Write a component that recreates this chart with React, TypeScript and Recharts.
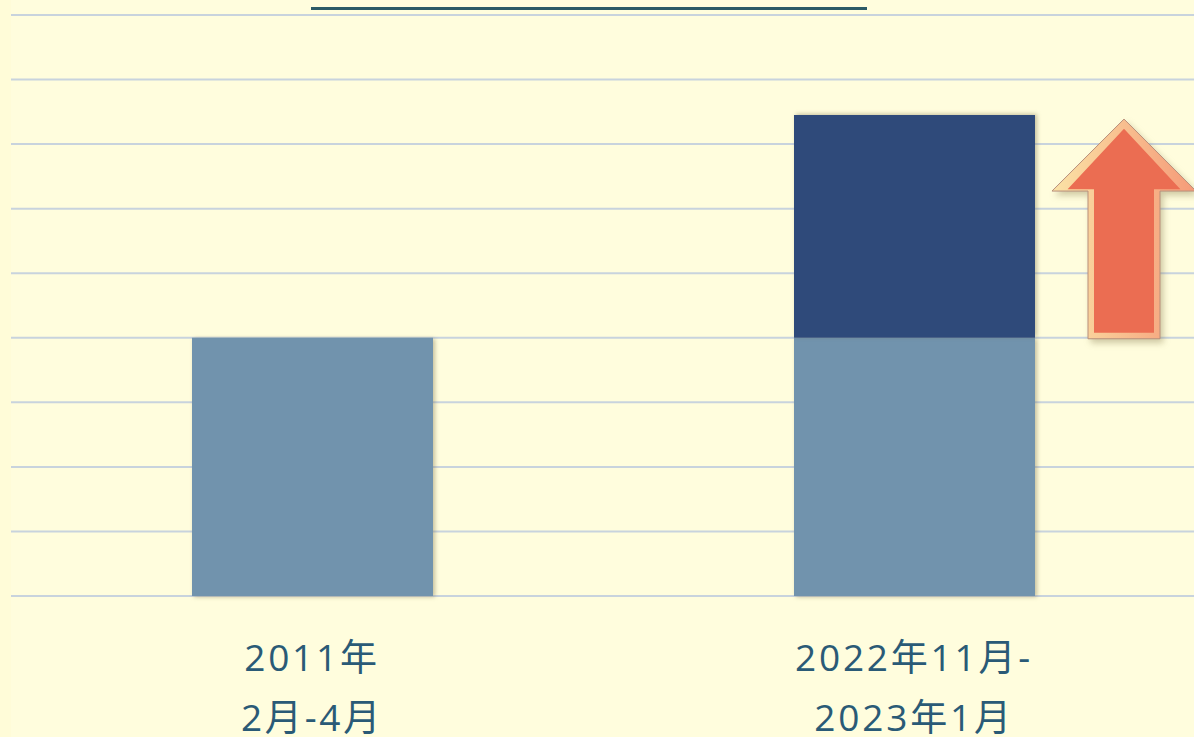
import { Bar, BarChart, CartesianGrid, XAxis, YAxis } from "recharts";

const PERIODS = ["2011年\n2月-4月", "2022年11月-\n2023年1月"];
const BASE_LEVEL = [4, 4];
const INCREASE = [0, 3.45];
const Y_TICKS = [0, 1, 2, 3, 4, 5, 6, 7, 8, 9];

const data = PERIODS.map((p, i) => ({ period: p, base: BASE_LEVEL[i], increase: INCREASE[i] }));

const FONT = "'Open Sans', 'Noto Sans CJK SC', sans-serif";

function PeriodTick({ x, y, payload }: any) {
  const lines = String(payload.value).split("\n");
  return (
    <g transform={`translate(${x},${y})`}>
      <text textAnchor="middle" fill="#2A5A76" fontSize={37} fontFamily={FONT} letterSpacing={2.8}>
        {lines.map((l, i) => (
          <tspan key={i} x={0} y={67 + i * 60}>
            {l}
          </tspan>
        ))}
      </text>
    </g>
  );
}

// up arrow drawn next to the increase segment, spanning its height
function UpArrow(props: any) {
  const { x, y, width, height, value } = props;
  if (!value) return null;
  const cx = x + width + 89;
  const top = y + 4;
  const bottom = y + height + 1;
  const headW = 72;
  const shaftW = 36;
  const headH = 72;
  const outer = [
    [cx, top],
    [cx + headW, top + headH],
    [cx + shaftW, top + headH],
    [cx + shaftW, bottom],
    [cx - shaftW, bottom],
    [cx - shaftW, top + headH],
    [cx - headW, top + headH],
  ];
  const ins = 6;
  const inner = [
    [cx, top + ins * 1.6],
    [cx + headW - ins * 2.6, top + headH - ins * 0.3],
    [cx + shaftW - ins, top + headH - ins * 0.3],
    [cx + shaftW - ins, bottom - ins],
    [cx - shaftW + ins, bottom - ins],
    [cx - shaftW + ins, top + headH - ins * 0.3],
    [cx - headW + ins * 2.6, top + headH - ins * 0.3],
  ];
  const pts = (a: number[][]) => a.map((p) => p.join(",")).join(" ");
  return (
    <g style={{ filter: "drop-shadow(3px 4px 3px rgba(120,110,60,0.35))" }}>
      <defs>
        <linearGradient id="arrowEdge" x1="0" y1="0" x2="1" y2="0">
          <stop offset="0%" stopColor="#FBE3A6" />
          <stop offset="100%" stopColor="#F59A78" />
        </linearGradient>
      </defs>
      <polygon points={pts(outer)} fill="url(#arrowEdge)" stroke="#B98F7A" strokeWidth={1} />
      <polygon points={pts(inner)} fill="#EB6D52" />
    </g>
  );
}

export default function App() {
  return (
    <div
      style={{
        position: "fixed",
        left: 0,
        top: 0,
        width: 1194,
        height: 737,
        overflow: "hidden",
        background: "#FFFCD8",
      }}
    >
      <div style={{ position: "absolute", left: 11, top: 0, width: 1183, height: 737, background: "#FFFDDD" }} />
      <div style={{ position: "absolute", left: 311, top: 7, width: 556, height: 3, background: "#2B5A66" }} />
      <div style={{ position: "absolute", left: 0, top: 0 }}>
        <BarChart
          width={1215}
          height={790}
          data={data}
          margin={{ top: 15, right: 0, bottom: 0, left: 11 }}
        >
          <CartesianGrid horizontal vertical={false} stroke="#C8D3DD" strokeWidth={2} />
          <XAxis
            dataKey="period"
            axisLine={false}
            tickLine={false}
            height={194}
            interval={0}
            tick={<PeriodTick />}
          />
          <YAxis hide domain={[0, 9]} ticks={Y_TICKS} />
          <Bar
            dataKey="base"
            stackId="a"
            fill="#7193AD"
            barSize={241}
            isAnimationActive={false}
            style={{ filter: "drop-shadow(2px 1px 2px rgba(110,100,60,0.4))" }}
          />
          <Bar
            dataKey="increase"
            stackId="a"
            fill="#2F4A7A"
            barSize={241}
            isAnimationActive={false}
            label={<UpArrow />}
            style={{ filter: "drop-shadow(2px -1px 2px rgba(110,100,60,0.4))" }}
          />
        </BarChart>
      </div>
    </div>
  );
}
